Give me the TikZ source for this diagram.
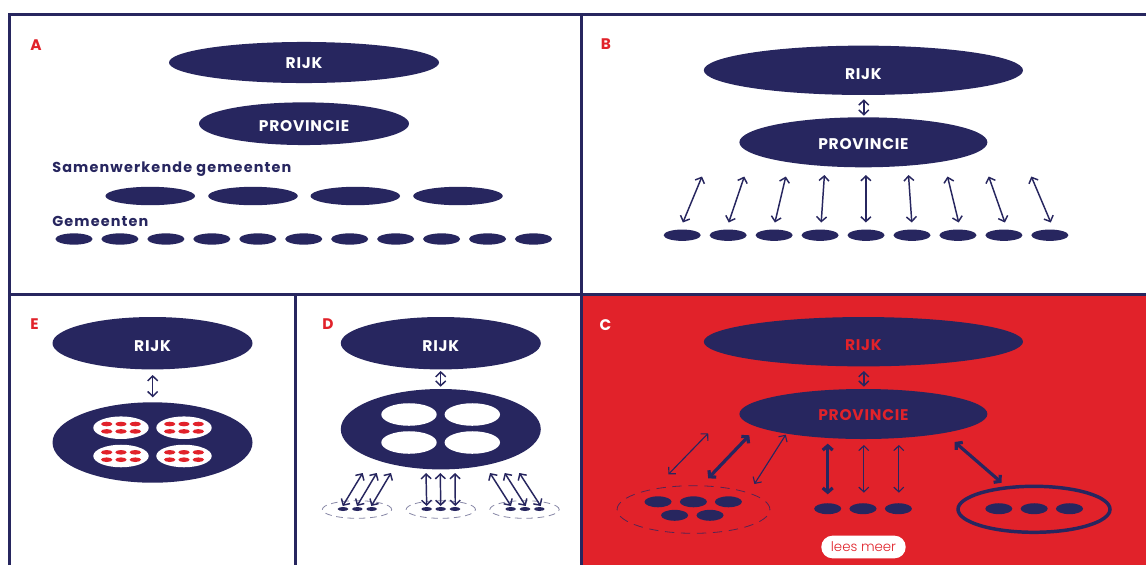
\documentclass[tikz,border=0pt]{standalone}
\usepackage{fontspec}
\setmainfont{Poppins}[UprightFont=* Bold,BoldFont=* Bold,LetterSpace=5]
\newfontfamily\wideb{Poppins}[UprightFont=* Bold,LetterSpace=8]
\newfontfamily\thinf{Poppins}[UprightFont=* Light]
\usetikzlibrary{shapes.geometric,arrows.meta}
\definecolor{navy}{HTML}{27265F}
\definecolor{rood}{HTML}{E1222A}
\newcommand{\captxt}[2]{\raisebox{\dimexpr-0.35em-0.75pt-#1\relax}[0pt][0pt]{#2}}
\newcommand{\linkarrow}[4][thinarrow]{%
  \coordinate (#2-a) at (#3);\coordinate (#2-b) at (#4);
  \draw[#1] (#2-a) -- (#2-b);}
\tikzset{
  x=0.75pt,y=-0.75pt,
  blob/.style={ellipse,fill=navy,inner sep=0pt,outer sep=0pt,text=white,font=\fontsize{11.6pt}{12pt}\selectfont},
  hole/.style={ellipse,fill=white,inner sep=0pt,minimum width=41.6pt,minimum height=16.9pt},
  rijkB/.style={blob,minimum width=239.4pt,minimum height=37pt},
  provB/.style={blob,minimum width=186pt,minimum height=37.5pt},
  rijkS/.style={blob,minimum width=150pt,minimum height=39.3pt},
  bigS/.style={blob,minimum width=150pt,minimum height=60.3pt},
  gem/.style={blob,minimum width=27.8pt,minimum height=8.5pt},
  gemC/.style={blob,minimum width=20.3pt,minimum height=8.2pt},
  gemD/.style={blob,minimum width=8pt,minimum height=3pt},
  panel/.style={text=rood,font=\fontsize{11.5pt}{12pt}\selectfont},
  heading/.style={anchor=west,inner sep=0pt,text=navy,font=\wideb\fontsize{10.8pt}{12pt}\selectfont},
  frameline/.style={draw=navy,line width=2.25pt},
  thinarrow/.style={draw=navy,line width=1.1pt,{Straight Barb[length=3.6pt,width=7.5pt]}-{Straight Barb[length=3.6pt,width=7.5pt]}},
  hairarrow/.style={draw=navy,line width=0.85pt,{Straight Barb[length=3.6pt,width=7.5pt]}-{Straight Barb[length=3.6pt,width=7.5pt]}},
  thickarrow/.style={draw=navy,line width=2.4pt,{Straight Barb[length=3.2pt,width=7.5pt]}-{Straight Barb[length=3.2pt,width=7.5pt]}},
}
\begin{document}
\begin{tikzpicture}
\useasboundingbox (0,0) rectangle (1146,565);
\clip (0,0) rectangle (1146,565);
\fill[white] (0,0) rectangle (1146,565);
\fill[rood] (581,294) rectangle (1146,565);
% frames
\draw[frameline] (9.5,565) -- (9.5,14.5) -- (1146,14.5);
\draw[frameline] (9.5,294) -- (1146,294);
\draw[frameline] (581,14.5) -- (581,565);
\draw[frameline] (295.5,294) -- (295.5,565);

% A
\node[panel] (la) at (36,45) {A};
\node[blob,minimum width=202.5pt,minimum height=30.8pt] (aR) at (304,62.5) {\captxt{0pt}{RIJK}};
\node[blob,minimum width=157.5pt,minimum height=32pt] (aP) at (304,123.7) {\captxt{1pt}{PROVINCIE}};
\node[heading] (aS) at (52,169) {Samenwerkende gemeenten};
\node[heading] (aG) at (52,221.5) {Gemeenten};
\foreach \i/\x in {1/150.2,2/253,3/355.3,4/458}
  \node[blob,minimum width=67.2pt,minimum height=13.8pt] (aw\i) at (\x,196) {};
\foreach \i in {0,...,10}
  \node[gem] (ag\i) at ({74+45.95*\i},239) {};

% B
\node[panel] (lb) at (606,44.5) {B};
\node[rijkB] (bR) at (863.4,70.3) {\captxt{2.2pt}{RIJK}};
\node[provB] (bP) at (863.4,142.3) {\captxt{0.7pt}{PROVINCIE}};
\linkarrow{bv}{863.8,99.3}{863.8,115.7}
\foreach \i in {0,...,8}
  \node[gem] (bg\i) at ({682.2+45.96*\i},235.2) {};
\foreach \n/\p/\q in {1/{702,176.5}/{682.9,222.5},2/{744.3,176.5}/{728.7,222.5},3/{785.8,176.5}/{774.9,222.5},4/{824.4,175}/{821.2,222.5},5/{865.9,175}/{865.9,222.5},6/{908.5,175}/{911.8,222.5},7/{947.5,176.5}/{958.7,222.5},8/{988.7,176.5}/{1004.9,222.5},9/{1031.3,176.5}/{1050.8,222.5}}
  {\linkarrow{ba\n}{\p}{\q}}

% E
\node[panel] (le) at (34.5,324.5) {E};
\node[rijkS] (eR) at (152.5,343.2) {\captxt{1.1pt}{RIJK}};
\node[bigS] (eB) at (152.5,442.5) {};
\linkarrow{ev}{152.7,375}{152.7,397.3}
\foreach \k/\cx/\cy in {1/121/427.7,2/184/427.7,3/121/456,4/184/456}{
  \node[hole] (eh\k) at (\cx,\cy) {};
  \foreach \dx in {-14.3,0,14.3}\foreach \dy in {-3.7,3.7}
    \fill[rood] ({\cx+\dx},{\cy+\dy}) ellipse [x radius=5.7,y radius=2.3];
}

% D
\node[panel] (ld) at (328,324.5) {D};
\node[rijkS] (dR) at (440.8,343.2) {\captxt{1.1pt}{RIJK}};
\node[bigS] (dB) at (440.8,429.2) {};
\linkarrow{dv}{440.7,371}{440.7,386.7}
\foreach \k/\cx/\cy in {1/409/414.5,2/472.3/414.5,3/409/442.5,4/472.3/442.5}
  \node[hole] (dh\k) at (\cx,\cy) {};
\foreach \k/\cx in {1/357,2/440.8,3/524.5}
  \node[ellipse,draw=navy!55,line width=0.6pt,dash pattern=on 5pt off 3.5pt,minimum width=52pt,minimum height=13.2pt,inner sep=0pt] (dd\k) at (\cx,509.5) {};
\foreach \k/\cx in {1/343,2/357.3,3/371.7,4/426.7,5/440.7,6/455,7/510.7,8/525,9/539.3}
  \node[gemD] (dg\k) at (\cx,509) {};
\foreach \n/\p/\q in {1/{362.7,473}/{342.7,506},2/{376.7,473}/{357,506},3/{391,473}/{371.3,506},4/{426,473}/{426.7,506},5/{440.3,473}/{440.7,506},6/{455,473}/{455.3,506},7/{490,473}/{511,506},8/{504.7,473}/{525.7,506},9/{519.3,473}/{540.7,506}}
  {\linkarrow{da\n}{\p}{\q}}

% C
\node[panel,text=white] (lc) at (605.5,325) {C};
\node[rijkB,text=rood] (cR) at (863.4,341.7) {\captxt{2pt}{RIJK}};
\node[provB,text=rood] (cP) at (863.4,414) {\captxt{0.2pt}{PROVINCIE}};
\linkarrow{cv}{863.8,371}{863.8,386.7}
\linkarrow[hairarrow]{c1}{708.2,433.3}{668.4,474.3}
\linkarrow[thickarrow]{c2}{749.3,435.3}{708.2,478.3}
\linkarrow[hairarrow]{c3}{785.8,434.7}{754.4,484}
\linkarrow[thickarrow]{c4}{827.7,443.7}{827.7,494.3}
\linkarrow[hairarrow]{c5}{863.8,445}{863.8,492.7}
\linkarrow[hairarrow]{c6}{898.8,445}{898.8,492.7}
\linkarrow[thickarrow]{c7}{954.7,442}{1001.7,482.7}
\node[ellipse,draw=navy!75!rood,line width=0.6pt,dash pattern=on 7pt off 5pt,minimum width=114.6pt,minimum height=35.7pt,inner sep=0pt] (cd) at (693.5,509.5) {};
\foreach \k/\cx/\cy in {1/658/501.8,2/693.4/501.8,3/728.4/501.8,4/674.6/515.3,5/710/515.3,6/827.7/508.7,7/863/508.7,8/898.4/508.7,9/998.8/508.7,10/1034.2/508.7,11/1069.5/508.7}
  \node[gemC] (cg\k) at (\cx,\cy) {};
\node[ellipse,draw=navy,line width=2.6pt,minimum width=114pt,minimum height=34.5pt,inner sep=0pt] (cs) at (1034,509.3) {};
\node[rounded corners=8.4pt,fill=white,text=rood,minimum width=63.3pt,minimum height=17pt,inner sep=0pt,font=\thinf\fontsize{10pt}{12pt}\selectfont] (more) at (863.5,547) {lees meer};
\end{tikzpicture}
\end{document}
